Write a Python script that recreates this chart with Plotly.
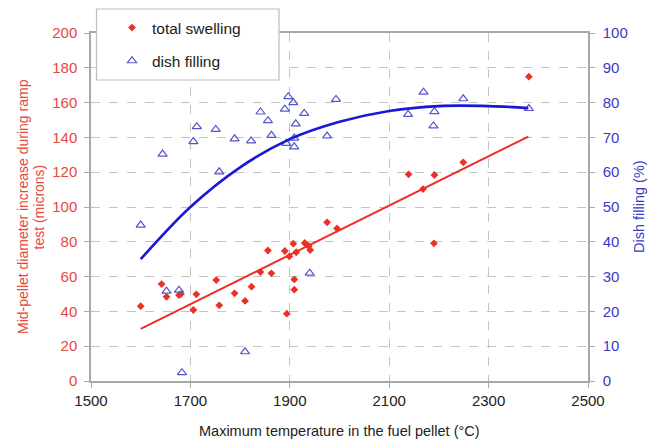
import plotly.graph_objects as go

# ---- data ----
swell_x = [1600, 1642, 1652, 1677, 1681, 1706, 1712, 1752, 1758, 1789, 1810, 1823,
           1841, 1856, 1863, 1890, 1894, 1899, 1907, 1909, 1909, 1913, 1930, 1938,
           1941, 1975, 1995, 2139, 2168, 2190, 2191, 2249, 2381]
swell_y = [43, 55.7, 48.4, 49.4, 50, 40.8, 49.8, 58, 43.5, 50.4, 46, 54.2,
           62.6, 75, 61.9, 74.7, 38.7, 71.6, 78.9, 58.4, 52.5, 74, 79.3, 77.6,
           75.3, 91.2, 87.7, 118.8, 110.3, 79.1, 118.4, 125.7, 174.9]

dish_x = [1600, 1644, 1652, 1677, 1683, 1706, 1713, 1751, 1758, 1789, 1810, 1822,
          1841, 1856, 1863, 1890, 1893, 1897, 1907, 1909, 1909, 1912, 1929, 1940,
          1975, 1993, 2138, 2169, 2189, 2191, 2249, 2381]
dish_y = [44.8, 65.2, 25.8, 26.1, 2.4, 68.8, 73.1, 72.3, 60.1, 69.6, 8.4, 69,
          77.3, 74.8, 70.6, 78.1, 68.3, 81.7, 80, 67.3, 69.8, 73.9, 76.9, 31,
          70.4, 80.9, 76.6, 83, 73.3, 77.4, 81.1, 78.3]

# trend lines
swell_fit_x = [1600, 2380]
swell_fit_y = [30, 140.5]
dish_fit_x = [1600, 1700, 1800, 1900, 2000, 2100, 2200, 2300, 2380]
dish_fit_y = [35, 50, 61.4, 69.5, 74.5, 77.6, 79, 79, 78.4]

x_ticks = [1500, 1700, 1900, 2100, 2300, 2500]

left_title_lines = ["Mid-pellet diameter increase during ramp", "test (microns)"]
right_title = "Dish filling (%)"
x_title = "Maximum temperature in the fuel pellet (°C)"

RED = "#ec3026"
BLUE_LINE = "#1818d6"
BLUE_MK = "#5656cc"
RED_TXT = "#e8473c"
BLUE_TXT = "#3a3ac4"
FONT = "Liberation Sans, Arial, sans-serif"

fig = go.Figure()

fig.add_trace(go.Scatter(
    x=swell_x, y=swell_y, mode="markers", name="total swelling",
    marker=dict(symbol="diamond", size=6, color=RED, line=dict(width=0)),
    legendgroup="a", yaxis="y"))
fig.add_trace(go.Scatter(
    x=dish_x, y=dish_y, mode="markers", name="dish filling",
    marker=dict(symbol="triangle-up-open", size=8, color=BLUE_MK,
                line=dict(width=1.2, color=BLUE_MK)),
    legendgroup="b", yaxis="y2"))
fig.add_trace(go.Scatter(
    x=swell_fit_x, y=swell_fit_y, mode="lines", showlegend=False,
    line=dict(color=RED, width=2), yaxis="y", hoverinfo="skip"))
fig.add_trace(go.Scatter(
    x=dish_fit_x, y=dish_fit_y, mode="lines", showlegend=False,
    line=dict(color=BLUE_LINE, width=2.6, shape="spline"), yaxis="y2",
    hoverinfo="skip"))

L, R, T, B = 91, 62, 33, 62
W, H = 650, 443
pw, ph = W - L - R, H - T - B

def px_x(p):
    return (p - L) / pw

def px_y(p):
    return (H - B - p) / ph

annotations = [
    dict(text=left_title_lines[0], xref="paper", yref="paper",
         x=px_x(23), y=0.5, xanchor="center", yanchor="middle",
         textangle=-90, showarrow=False,
         font=dict(size=14, color=RED_TXT, family=FONT)),
    dict(text=left_title_lines[1], xref="paper", yref="paper",
         x=px_x(38.5), y=0.5, xanchor="center", yanchor="middle",
         textangle=-90, showarrow=False,
         font=dict(size=14, color=RED_TXT, family=FONT)),
    dict(text=right_title, xref="paper", yref="paper",
         x=px_x(639), y=0.5, xanchor="center", yanchor="middle",
         textangle=-90, showarrow=False,
         font=dict(size=14.5, color=BLUE_TXT, family=FONT)),
    dict(text=x_title, xref="paper", yref="paper",
         x=0.5, y=px_y(431), xanchor="center", yanchor="middle",
         showarrow=False,
         font=dict(size=14.5, color="#222", family=FONT)),
]

fig.update_layout(
    width=W, height=H,
    margin=dict(l=L, r=R, t=T, b=B, pad=0, autoexpand=False),
    paper_bgcolor="white", plot_bgcolor="white",
    font=dict(family=FONT, size=15, color="#222"),
    showlegend=True,
    legend=dict(
        x=px_x(112), y=px_y(11), xanchor="left", yanchor="top",
        bgcolor="rgba(0,0,0,0)", borderwidth=0,
        font=dict(size=15.5, color="#222"),
        tracegroupgap=10, itemclick=False,
    ),
    annotations=annotations,
    xaxis=dict(
        range=[1500, 2500], tickvals=x_ticks, automargin=False,
        showgrid=True, gridcolor="#c4c4c4", griddash="dash", gridwidth=1,
        showline=True, linecolor="#a8a8a8", linewidth=1.5, mirror=True,
        ticks="outside", ticklen=5, tickcolor="#a8a8a8",
        tickfont=dict(size=15, color="#222"),
        zeroline=False,
    ),
    yaxis=dict(
        range=[0, 200], dtick=20, tick0=0, automargin=False,
        showgrid=True, gridcolor="#c4c4c4", griddash="dash", gridwidth=1,
        showline=True, linecolor="#a8a8a8", linewidth=1.5,
        ticks="outside", ticklen=5, tickcolor="#a8a8a8",
        ticklabelstandoff=4,
        tickfont=dict(size=15, color=RED_TXT),
        zeroline=False,
    ),
    yaxis2=dict(
        range=[0, 100], dtick=10, tick0=0, overlaying="y", side="right",
        automargin=False, showgrid=False,
        showline=True, linecolor="#a8a8a8", linewidth=1.5,
        ticks="outside", ticklen=5, tickcolor="#a8a8a8",
        ticklabelstandoff=5,
        tickfont=dict(size=15, color=BLUE_TXT),
        zeroline=False,
    ),
    shapes=[dict(
        type="rect", xref="paper", yref="paper", layer="above",
        x0=px_x(96.5), x1=px_x(279), y0=px_y(80), y1=px_y(9),
        line=dict(color="#bdbdbd", width=1.2), fillcolor="white",
    )],
)

fig.write_html("out.html")
